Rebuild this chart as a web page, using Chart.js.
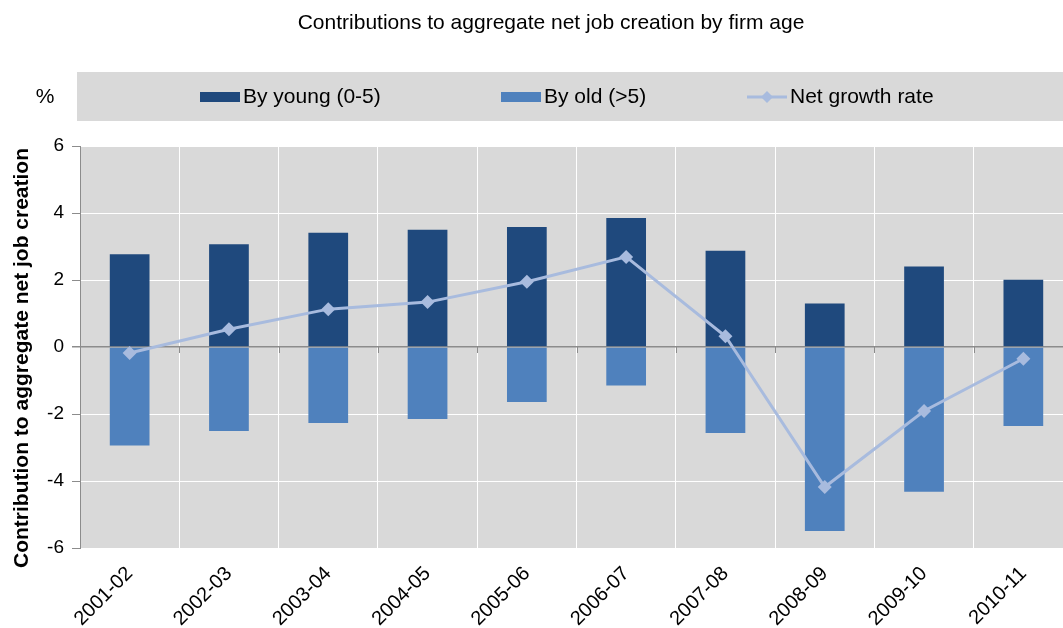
<!DOCTYPE html>
<html>
<head>
<meta charset="utf-8">
<script src="https://cdn.jsdelivr.net/npm/chart.js@4.4.1/dist/chart.umd.min.js"></script>
<style>
  html, body { margin: 0; padding: 0; background: #fff; overflow: hidden; }
  #wrap { width: 1080px; height: 628px; position: relative; }
</style>
</head>
<body>
<div id="wrap"><canvas id="chart"></canvas></div>
<script>
// Data
const categories = ["2001-02", "2002-03", "2003-04", "2004-05", "2005-06",
                    "2006-07", "2007-08", "2008-09", "2009-10", "2010-11"];
const youngValues = [2.77, 3.07, 3.41, 3.50, 3.58, 3.85, 2.87, 1.30, 2.40, 2.01];
const oldValues = [-2.94, -2.51, -2.27, -2.15, -1.64, -1.15, -2.57, -5.49, -4.32, -2.36];
const netValues = [-0.18, 0.53, 1.13, 1.34, 1.95, 2.69, 0.32, -4.18, -1.91, -0.35];
const yTicks = [-6, -4, -2, 0, 2, 4, 6];

const titleText = "Contributions to aggregate net job creation by firm age";
const yTitleText = "Contribution to aggregate net job creation";
const unitText = "%";

const FONT = "'Liberation Sans', Arial, sans-serif";
const YOUNG = "#1f497d";
const OLD = "#4f81bd";
const NET = "#a8bbde";
const PANEL = "#d9d9d9";

// Plot background, title, legend band and axis title
const decorPlugin = {
    id: "decor",
    beforeDraw(chart) {
        const { ctx, chartArea } = chart;
        ctx.save();
        ctx.fillStyle = PANEL;
        ctx.fillRect(chartArea.left, chartArea.top,
                     chartArea.right - chartArea.left, chartArea.bottom - chartArea.top);

        // title
        ctx.fillStyle = "#000";
        ctx.font = "21px " + FONT;
        ctx.textAlign = "center";
        ctx.textBaseline = "middle";
        ctx.fillText(titleText, 551, 23);

        // legend band
        ctx.fillStyle = PANEL;
        ctx.fillRect(77, 72, chart.width - 77, 49);
        ctx.fillStyle = "#000";
        ctx.fillText(unitText, 45, 97);

        const slots = [200, 501, 747];
        ctx.textAlign = "left";
        chart.data.datasets.forEach((ds) => {
            const x = slots[ds.legendSlot];
            if (ds.type === "line") {
                ctx.strokeStyle = ds.borderColor;
                ctx.lineWidth = 3;
                ctx.beginPath();
                ctx.moveTo(x, 97);
                ctx.lineTo(x + 40, 97);
                ctx.stroke();
                ctx.fillStyle = ds.borderColor;
                ctx.beginPath();
                ctx.moveTo(x + 20, 91);
                ctx.lineTo(x + 26, 97);
                ctx.lineTo(x + 20, 103);
                ctx.lineTo(x + 14, 97);
                ctx.closePath();
                ctx.fill();
            } else {
                ctx.fillStyle = ds.backgroundColor;
                ctx.fillRect(x, 92, 40, 10);
            }
            ctx.fillStyle = "#000";
            ctx.font = "21px " + FONT;
            ctx.fillText(ds.label, x + 43, 97);
        });

        // rotated y axis title
        ctx.translate(22, 358);
        ctx.rotate(-Math.PI / 2);
        ctx.textAlign = "center";
        ctx.font = "bold 21px " + FONT;
        ctx.fillText(yTitleText, 0, 0);
        ctx.restore();
    },
    afterDatasetsDraw(chart) {
        // small tick marks below the zero line at category boundaries
        const { ctx } = chart;
        const x = chart.scales.x;
        const y0 = chart.scales.y.getPixelForValue(0);
        ctx.save();
        ctx.strokeStyle = "#8c8c8c";
        ctx.lineWidth = 1;
        for (let i = 1; i < categories.length; i++) {
            const px = Math.round(x.getPixelForValue(i - 0.5)) + 0.5;
            ctx.beginPath();
            ctx.moveTo(px, y0);
            ctx.lineTo(px, y0 + 6);
            ctx.stroke();
        }
        ctx.restore();
    }
};

const ctx = document.getElementById("chart").getContext("2d");

new Chart(ctx, {
    data: {
        labels: categories,
        datasets: [
            {
                type: "line",
                label: "Net growth rate",
                data: netValues,
                borderColor: NET,
                backgroundColor: NET,
                borderWidth: 3,
                pointStyle: "rectRot",
                pointRadius: 7,
                pointHoverRadius: 7,
                pointBorderWidth: 0,
                stack: "net",
                order: 0,
                legendSlot: 2
            },
            {
                type: "bar",
                label: "By young (0-5)",
                data: youngValues,
                backgroundColor: YOUNG,
                stack: "age",
                order: 1,
                legendSlot: 0
            },
            {
                type: "bar",
                label: "By old (>5)",
                data: oldValues,
                backgroundColor: OLD,
                stack: "age",
                order: 1,
                legendSlot: 1
            }
        ]
    },
    options: {
        responsive: true,
        maintainAspectRatio: false,
        animation: false,
        layout: { padding: { top: 146, right: 5, left: 0, bottom: 0 } },
        datasets: { bar: { categoryPercentage: 1, barPercentage: 0.4 } },
        plugins: {
            legend: { display: false },
            title: { display: false },
            tooltip: { enabled: false }
        },
        scales: {
            x: {
                stacked: true,
                offset: true,
                grid: {
                    offset: true,
                    color: "#ffffff",
                    lineWidth: 1,
                    drawTicks: false
                },
                border: { display: false },
                ticks: {
                    color: "#000",
                    font: { family: FONT, size: 20 },
                    minRotation: 45,
                    maxRotation: 45,
                    padding: 14,
                    autoSkip: false
                },
                afterFit(scale) { scale.height = 80; }
            },
            y: {
                stacked: true,
                min: -6,
                max: 6,
                afterBuildTicks(scale) {
                    scale.ticks = yTicks.map(v => ({ value: v }));
                },
                grid: {
                    color: c => (c.tick && c.tick.value === 0 ? "#8c8c8c" : "#ffffff"),
                    lineWidth: c => (c.tick && c.tick.value === 0 ? 1.5 : 1),
                    tickColor: "#8c8c8c",
                    tickLength: 8
                },
                border: { display: true, color: "#8c8c8c", width: 1 },
                ticks: {
                    color: "#000",
                    font: { family: FONT, size: 19 },
                    padding: 8
                },
                afterFit(scale) { scale.width = 80; }
            }
        }
    },
    plugins: [decorPlugin]
});
</script>
</body>
</html>
